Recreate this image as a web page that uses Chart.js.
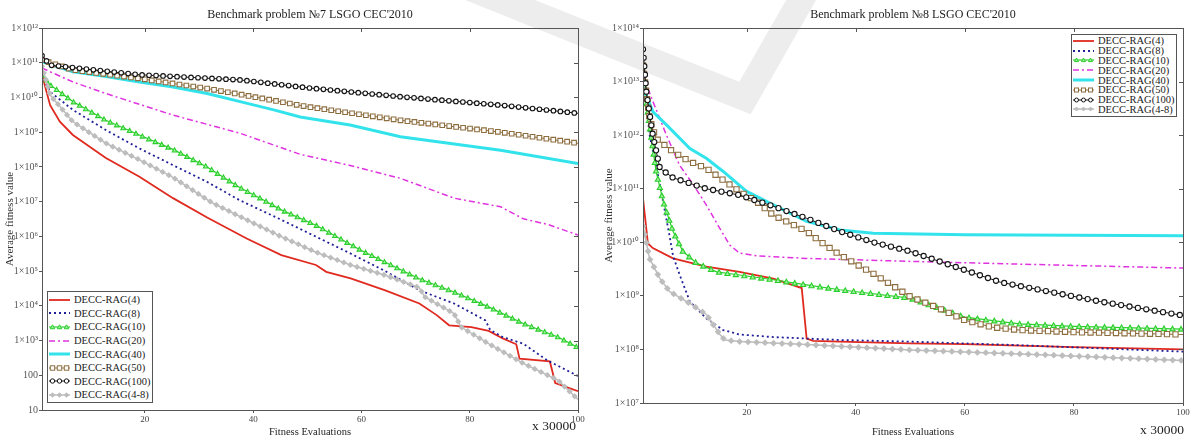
<!DOCTYPE html>
<html>
<head>
<meta charset="utf-8">
<script src="https://cdn.jsdelivr.net/npm/chart.js@4.4.1/dist/chart.umd.min.js"></script>
<style>
html,body{margin:0;padding:0;background:#fff;}
body{width:1192px;height:441px;position:relative;overflow:hidden;font-family:"Liberation Serif",serif;}
#mark{position:absolute;left:0;top:0;z-index:0;}
canvas{position:absolute;top:0;z-index:1;}
#c7{left:0;}
#c8{left:597px;}
.legend{position:absolute;z-index:2;background:#fff;border:1px solid #555;box-sizing:border-box;font-size:10.5px;color:#222;padding-top:1px;}
.legend .row{display:flex;align-items:center;white-space:nowrap;}
.legend svg{flex:none;margin:0 4px 0 1px;}
</style>
</head>
<body>
<svg id="mark" width="1192" height="441"><polyline points="470,-12 745,98 808,-12" fill="none" stroke="#ededed" stroke-width="26" stroke-linejoin="miter"/></svg>
<canvas id="c7" width="596" height="441"></canvas>
<canvas id="c8" width="595" height="441"></canvas>
<div class="legend" id="leg7" style="left:47px;top:291px;width:106px;height:112px;"></div>
<div class="legend" id="leg8" style="left:1071px;top:34px;width:106px;height:83px;"></div>
<script>
// series names (legend order)
var seriesNames = ['DECC-RAG(4)','DECC-RAG(8)','DECC-RAG(10)','DECC-RAG(20)','DECC-RAG(40)','DECC-RAG(50)','DECC-RAG(100)','DECC-RAG(4-8)'];

var xTickValues = [20, 40, 60, 80, 100];
var p7TickValues = [10, 100, 1e3, 1e4, 1e5, 1e6, 1e7, 1e8, 1e9, 1e10, 1e11, 1e12];
var p8TickValues = [1e7, 1e8, 1e9, 1e10, 1e11, 1e12, 1e13, 1e14];

// ---- problem 7 ----
var p7RedX = [1, 2.5, 4.3, 6.7, 12.8, 19, 25.2, 31.5, 38.8, 45.2, 51.6, 53.5, 58, 64.4, 70.7, 73.9, 76.2, 80.3, 83.5, 86.1, 88.6, 89.2, 94.8, 95.8, 100];
var p7RedY = [4.5e10, 6.0e9, 2.0e9, 8.3e8, 1.8e8, 5.2e7, 1.26e7, 3.5e6, 8.7e5, 2.9e5, 1.5e5, 9.5e4, 6.2e4, 2.8e4, 1.17e4, 5400, 2750, 2450, 1900, 1150, 780, 300, 250, 60, 35];
var p7BlueX = [1, 2.5, 6.7, 12.8, 19, 25.2, 31.5, 37.5, 45.2, 51.6, 58, 64.4, 70.7, 77.1, 82.9, 83.8, 86.1, 89.9, 94.3, 100];
var p7BlueY = [4.5e10, 1.45e10, 4.4e9, 1.15e9, 3.4e8, 1.12e8, 3.7e7, 1.1e7, 3.0e6, 9.8e5, 3.2e5, 1.0e5, 2.8e4, 1.17e4, 3800, 2000, 1260, 810, 270, 95];
var p7GreenX = [1, 2.5, 6.7, 12.8, 19, 25.2, 31.5, 37.6, 42, 45.2, 51.6, 59.9, 64.4, 70.7, 77.1, 83.5, 89.9, 96.3, 100];
var p7GreenY = [4.5e10, 2.3e10, 7.6e9, 2.2e9, 8.3e8, 3.2e8, 1.0e8, 2.5e7, 1.1e7, 5.8e6, 2.1e6, 4.0e5, 1.8e5, 6.0e4, 2.5e4, 9300, 3100, 1260, 630];
var p7MagentaX = [1, 2.5, 6.7, 12.8, 25.2, 37.6, 48.7, 57.9, 67.2, 77.1, 85.7, 89.9, 94.4, 100];
var p7MagentaY = [7.1e10, 5.5e10, 2.8e10, 1.3e10, 3.1e9, 9.3e8, 2.3e8, 1.1e8, 4.7e7, 1.26e7, 7.1e6, 3.2e6, 2.2e6, 1.1e6];
var p7CyanX = [1, 6.7, 12.8, 19, 25.2, 31.5, 37.6, 43.8, 48.7, 57.9, 67.2, 85.7, 100];
var p7CyanY = [1.07e11, 5.5e10, 4.0e10, 2.8e10, 2.0e10, 1.3e10, 7.6e9, 4.4e9, 2.75e9, 1.6e9, 7.4e8, 3.0e8, 1.26e8];
var p7BrownX = [1, 6.7, 19, 31.5, 40, 50, 67.2, 85.7, 100];
var p7BrownY = [1.2e11, 6.2e10, 3.5e10, 1.8e10, 1.05e10, 5.4e9, 2.2e9, 1.0e9, 4.8e8];
var p7BlackX = [1, 2.5, 19, 37.6, 50, 67.2, 85.7, 100];
var p7BlackY = [1.6e11, 8.5e10, 4.5e10, 3.2e10, 1.9e10, 1.05e10, 6.0e9, 3.5e9];
var p7GrayX = [1, 2.5, 6.7, 12.8, 19, 25.2, 32.4, 38.8, 45.2, 51.6, 58, 64.4, 69.5, 70.7, 71.7, 77.1, 78.4, 83.5, 89.9, 96.3, 100];
var p7GrayY = [7.9e10, 1.17e10, 2.0e9, 4.8e8, 1.6e8, 5.0e7, 9.3e6, 3.0e6, 9.8e5, 3.5e5, 1.5e5, 7.6e4, 3.9e4, 3.3e4, 1.8e4, 6000, 2450, 810, 220, 72, 20];

// ---- problem 8 ----
var p8RedX = [1, 1.9, 2.8, 6.5, 12.6, 18.7, 24.9, 30.1, 31.0, 32.2, 37.1, 49.9, 60, 80, 100];
var p8RedY = [6.6e10, 9.5e9, 7.8e9, 5.0e9, 3.5e9, 2.8e9, 2.1e9, 1.4e9, 1.6e8, 1.45e8, 1.4e8, 1.3e8, 1.26e8, 1.1e8, 1.0e8];
var p8BlueX = [1, 2.2, 4.1, 5.9, 6.5, 7.7, 9.6, 12.6, 15.7, 18.7, 24.9, 37.1, 49.9, 70, 100];
var p8BlueY = [2.0e13, 1.0e12, 1.2e11, 1.26e10, 5.6e9, 2.5e9, 7.8e8, 3.8e8, 2.3e8, 1.9e8, 1.7e8, 1.5e8, 1.4e8, 1.2e8, 9.1e7];
var p8GreenX = [1, 2.2, 3.4, 4.7, 6.5, 8.3, 10.8, 14.5, 18.7, 24.9, 31, 37.1, 49.9, 60, 70, 80, 100];
var p8GreenY = [1.15e13, 1.55e12, 2.1e11, 5.8e10, 1.6e10, 6.8e9, 4.1e9, 2.8e9, 2.45e9, 2.0e9, 1.6e9, 1.3e9, 9.1e8, 4.0e8, 3.0e8, 2.7e8, 2.4e8];
var p8MagentaX = [1, 2.8, 5.3, 7.7, 10.2, 12.6, 15.1, 16.9, 18.7, 21.8, 31, 49.9, 75, 100];
var p8MagentaY = [1.3e13, 4.3e12, 1.0e12, 2.75e11, 1.2e11, 5.0e10, 1.8e10, 8.9e9, 6.3e9, 5.6e9, 5.0e9, 4.4e9, 3.8e9, 3.3e9];
var p8CyanX = [1, 2.8, 5.3, 9.6, 12.6, 15.7, 20, 24.9, 31, 37.1, 43.2, 60, 100];
var p8CyanY = [7.9e12, 2.75e12, 1.55e12, 5.6e11, 3.7e11, 2.1e11, 8.9e10, 5.0e10, 2.45e10, 1.7e10, 1.48e10, 1.38e10, 1.32e10];
var p8BrownX = [1, 2.2, 3.4, 6.5, 9.6, 12.6, 15.7, 18.7, 21.8, 24.9, 31, 34, 37.1, 43.2, 49.9, 55, 60, 65, 70, 80, 100];
var p8BrownY = [2.0e13, 2.0e12, 8.7e11, 4.9e11, 3.2e11, 2.4e11, 1.45e11, 8.9e10, 5.8e10, 3.2e10, 1.6e10, 9.5e9, 5.8e9, 2.6e9, 9.8e8, 6.0e8, 3.5e8, 2.6e8, 2.3e8, 2.1e8, 1.9e8];
var p8BlackX = [1, 1.6, 2.8, 4.1, 6.5, 12.6, 18.7, 24.9, 31, 37.1, 43.2, 49.9, 66.5, 84.9, 100];
var p8BlackY = [4.0e13, 6.5e12, 1.0e12, 2.4e11, 1.6e11, 1.0e11, 7.6e10, 4.7e10, 2.8e10, 1.6e10, 1.0e10, 6.8e9, 1.8e9, 7.8e8, 4.3e8];
var p8GrayX = [1, 2.2, 4.1, 5.9, 9.6, 12.6, 15.1, 16, 18.7, 31, 49.9, 75, 100];
var p8GrayY = [2.0e10, 5.0e9, 2.1e9, 1.2e9, 7.2e8, 4.5e8, 1.9e8, 1.5e8, 1.4e8, 1.23e8, 9.8e7, 7.9e7, 6.2e7];

// line looks, same order as seriesNames (m = marker drawn along the line)
var styles = [
  {c:'#e0291f', w:1.8, d:[]},
  {c:'#1f1f9a', w:1.8, d:[2,3]},
  {c:'#2bcf2b', w:1.2, d:[], m:'tri', f:'#9fee9f'},
  {c:'#e033e0', w:1.5, d:[6,3,2,3]},
  {c:'#33e3ec', w:3,   d:[]},
  {c:'#8d6d3e', w:1,   d:[], m:'square', f:'#fff'},
  {c:'#141414', w:1,   d:[], m:'circle', f:'#fff'},
  {c:'#bdbdbd', w:1.5, d:[], m:'diamond', f:'#bdbdbd'}
];

var supDigits = {'0':'\u2070','1':'\u00b9','2':'\u00b2','3':'\u00b3','4':'\u2074','5':'\u2075','6':'\u2076','7':'\u2077','8':'\u2078','9':'\u2079'};
function powLabel(v, plainBelow){
  if (v < plainBelow) return String(v);
  var e = Math.round(Math.log10(v));
  return '1\u00d710' + String(e).split('').map(function(c){return supDigits[c];}).join('');
}

function drawMarker(ctx, type, x, y, r){
  ctx.beginPath();
  if (type === 'tri') { ctx.moveTo(x, y - r); ctx.lineTo(x + r, y + r * 0.8); ctx.lineTo(x - r, y + r * 0.8); ctx.closePath(); }
  else if (type === 'square') { ctx.rect(x - r, y - r, 2 * r, 2 * r); }
  else if (type === 'circle') { ctx.arc(x, y, r, 0, Math.PI * 2); }
  else { ctx.moveTo(x, y - r); ctx.lineTo(x + r, y); ctx.lineTo(x, y + r); ctx.lineTo(x - r, y); ctx.closePath(); }
  ctx.fill(); ctx.stroke();
}

// markers spaced along the drawn line, positions come from the dataset's own points
var markerPlugin = {
  id: 'markers',
  afterDatasetDraw: function(chart, args, o){
    var s = styles[args.index];
    if (!s.m) return;
    var pts = args.meta.data, ctx = chart.ctx, a = chart.chartArea;
    ctx.save();
    ctx.beginPath(); ctx.rect(a.left, a.top, a.right - a.left, a.bottom - a.top); ctx.clip();
    ctx.strokeStyle = s.c; ctx.fillStyle = s.f; ctx.lineWidth = 1.1;
    var next = 0;
    for (var k = 1; k < pts.length; k++) {
      var x0 = pts[k-1].x, y0 = pts[k-1].y, x1 = pts[k].x, y1 = pts[k].y;
      var L = Math.hypot(x1 - x0, y1 - y0), d = next;
      while (d <= L) {
        var t = L ? d / L : 0;
        drawMarker(ctx, s.m, x0 + (x1 - x0) * t, y0 + (y1 - y0) * t, o.size);
        d += o.spacing;
      }
      next = d - L;
    }
    ctx.restore();
  }
};

var framePlugin = {
  id: 'frame',
  afterDatasetsDraw: function(chart, args, o){
    var ctx = chart.ctx, a = chart.chartArea, sx = chart.scales.x, sy = chart.scales.y;
    ctx.save();
    ctx.strokeStyle = '#555'; ctx.lineWidth = 1;
    ctx.strokeRect(Math.round(a.left)+0.5, Math.round(a.top)+0.5, Math.round(a.right-a.left), Math.round(a.bottom-a.top));
    ctx.beginPath();
    sx.ticks.forEach(function(t){
      var px = Math.round(sx.getPixelForValue(t.value))+0.5;
      ctx.moveTo(px, a.top); ctx.lineTo(px, a.top+4);
    });
    sy.ticks.forEach(function(t){
      var py = Math.round(sy.getPixelForValue(t.value))+0.5;
      ctx.moveTo(a.right, py); ctx.lineTo(a.right-4, py);
    });
    ctx.stroke();
    ctx.fillStyle = '#222';
    ctx.textAlign = 'center'; ctx.textBaseline = 'middle';
    ctx.font = '12px "Liberation Serif"';
    ctx.fillText(o.title, (a.left+a.right)/2, 15);
    ctx.font = '10.5px "Liberation Serif"';
    ctx.fillText('Fitness Evaluations', (a.left+a.right)/2, 432);
    ctx.textAlign = 'left';
    ctx.font = '13.5px "Liberation Serif"';
    ctx.fillText('x 30000', o.unitX, o.unitY);
    ctx.restore();
  }
};

function buildChart(id, cfg){
  var tickFont = {family:'Liberation Serif', size:10};
  return new Chart(document.getElementById(id), {
    type: 'line',
    data: {
      datasets: cfg.xs.map(function(xs, i){
        return {
          label: seriesNames[i],
          data: xs.map(function(x, k){ return {x:x, y:cfg.ys[i][k]}; }),
          borderColor: styles[i].c, borderWidth: styles[i].w, borderDash: styles[i].d,
          pointRadius: 0, fill: false, tension: 0, order: 8 - i
        };
      })
    },
    options: {
      responsive: false, animation: false, devicePixelRatio: 1,
      layout: {padding: {top: 28, right: cfg.padRight, left: 0, bottom: 0}},
      plugins: {
        legend: {display: false}, tooltip: {enabled: false},
        frame: {title: cfg.title, unitX: cfg.unitX, unitY: cfg.unitY},
        markers: {spacing: cfg.markGap, size: cfg.markSize}
      },
      scales: {
        x: {
          type: 'linear', min: 1, max: 100,
          afterBuildTicks: function(s){ s.ticks = xTickValues.map(function(v){return {value:v};}); },
          afterFit: function(s){ s.height = cfg.xHeight; },
          grid: {drawOnChartArea: false, tickLength: 3, color: '#555'},
          border: {color: '#555'},
          ticks: {font: {family:'Liberation Serif', size:9}, color: '#444', padding: 1, maxRotation: 0, autoSkip: false}
        },
        y: {
          type: 'logarithmic', min: cfg.yMin, max: cfg.yMax,
          afterBuildTicks: function(s){ s.ticks = cfg.yTicks.map(function(v){return {value:v};}); },
          afterFit: function(s){ s.width = cfg.yWidth; },
          grid: {drawOnChartArea: false, tickLength: 3, color: '#555'},
          border: {color: '#555'},
          ticks: {font: tickFont, color: '#555', padding: 1, autoSkip: false,
                  callback: function(v){ return powLabel(v, cfg.plainBelow); }},
          title: {display: true, text: 'Average fitness value', color: '#333',
                  font: {family:'Liberation Serif', size:11}, padding: {top: cfg.yTitlePad, bottom: 0}}
        }
      }
    },
    plugins: [markerPlugin, framePlugin]
  });
}

function markerSvg(s, r){
  var out = '';
  [3.5, 10.5, 17.5].forEach(function(x){
    var y = 4;
    if (s.m === 'tri') out += '<polygon points="' + x + ',' + (y-r) + ' ' + (x+r) + ',' + (y+r*0.8) + ' ' + (x-r) + ',' + (y+r*0.8) + '"';
    else if (s.m === 'square') out += '<rect x="' + (x-r) + '" y="' + (y-r) + '" width="' + 2*r + '" height="' + 2*r + '"';
    else if (s.m === 'circle') out += '<circle cx="' + x + '" cy="' + y + '" r="' + r + '"';
    else out += '<polygon points="' + x + ',' + (y-r) + ' ' + (x+r) + ',' + y + ' ' + x + ',' + (y+r) + ' ' + (x-r) + ',' + y + '"';
    out += ' fill="' + s.f + '" stroke="' + s.c + '" stroke-width="1"/>';
  });
  return out;
}

function buildLegend(id, rowH, r){
  var el = document.getElementById(id);
  seriesNames.forEach(function(name, i){
    var s = styles[i];
    var row = document.createElement('div');
    row.className = 'row';
    row.style.height = rowH + 'px';
    row.innerHTML = '<svg width="21" height="8"><line x1="0" y1="4" x2="21" y2="4" stroke="' + s.c +
      '" stroke-width="' + s.w + '" stroke-dasharray="' + (s.d.length ? s.d.join(' ') : 'none') + '"/>' +
      (s.m ? markerSvg(s, r) : '') + '</svg><span>' + name + '</span>';
    el.appendChild(row);
  });
}

buildChart('c7', {
  title: 'Benchmark problem \u21167 LSGO CEC\'2010',
  xs: [p7RedX, p7BlueX, p7GreenX, p7MagentaX, p7CyanX, p7BrownX, p7BlackX, p7GrayX],
  ys: [p7RedY, p7BlueY, p7GreenY, p7MagentaY, p7CyanY, p7BrownY, p7BlackY, p7GrayY],
  yMin: 10, yMax: 1e12, yTicks: p7TickValues, plainBelow: 1000,
  padRight: 18, yWidth: 42, xHeight: 31, yTitlePad: 4,
  unitX: 532, unitY: 426, markGap: 7, markSize: 2.3
});
buildChart('c8', {
  title: 'Benchmark problem \u21168 LSGO CEC\'2010',
  xs: [p8RedX, p8BlueX, p8GreenX, p8MagentaX, p8CyanX, p8BrownX, p8BlackX, p8GrayX],
  ys: [p8RedY, p8BlueY, p8GreenY, p8MagentaY, p8CyanY, p8BrownY, p8BlackY, p8GrayY],
  yMin: 1e7, yMax: 1e14, yTicks: p8TickValues, plainBelow: 1,
  padRight: 9, yWidth: 46, xHeight: 38, yTitlePad: 6,
  unitX: 543, unitY: 430, markGap: 8.5, markSize: 2.6
});
buildLegend('leg7', 13.6, 2.2);
buildLegend('leg8', 9.8, 2);
</script>
</body>
</html>
